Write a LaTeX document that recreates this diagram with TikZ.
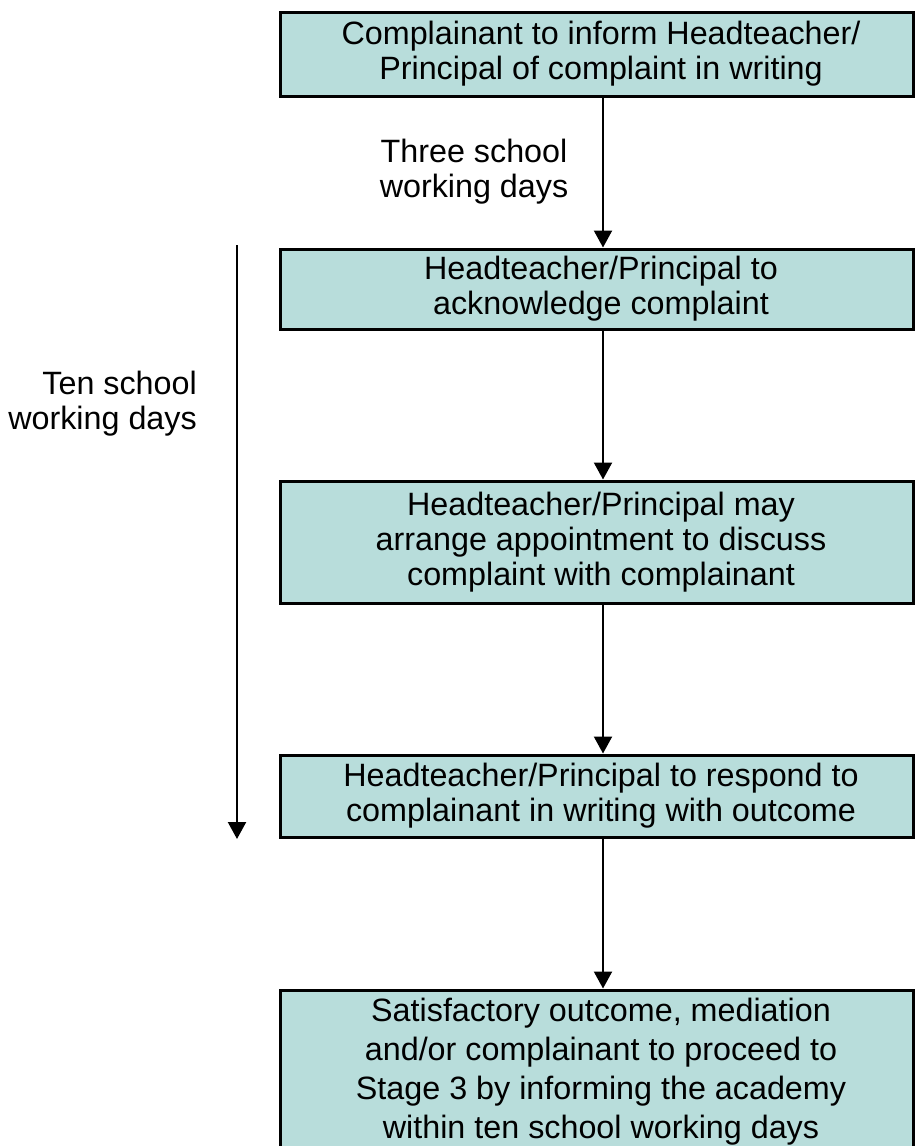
\documentclass[tikz,border=0pt]{standalone}
\usepackage{fontspec}
\setmainfont{Liberation Sans}
\usetikzlibrary{arrows.meta}
\definecolor{boxfill}{RGB}{184,221,219}
\tikzset{
  x=1pt,y=-1pt,
  stage/.style={draw=black,line width=3pt,fill=boxfill,minimum width=633pt,inner sep=0pt},
  stagetext/.style={align=center,inner sep=0pt,font=\fontsize{32.3}{35}\selectfont},
  arr/.style={line width=2.2pt,-{Triangle[width=18pt,length=17pt]}},
  lbl/.style={align=right,inner sep=0pt,font=\fontsize{32.3}{35}\selectfont}
}
\begin{document}
\begin{tikzpicture}
\useasboundingbox (0,0) rectangle (915,1146);
\begin{scope}
\clip (0,0) rectangle (915,1146);
\node[stage,minimum height=84pt] (b1) at (596.5,54) {};
\node[stage,minimum height=80pt] (b2) at (596.5,289) {};
\node[stage,minimum height=122pt] (b3) at (596.5,542) {};
\node[stage,minimum height=82pt] (b4) at (596.5,796) {};
\node[stage,minimum height=170pt] (b5) at (596.5,1075) {};
\node[stagetext] (t1) at ([xshift=4.5pt]b1.center) {Complainant to inform Headteacher/\\Principal of complaint in writing};
\node[stagetext] (t2) at ([xshift=4.5pt]b2.center) {Headteacher/Principal to\\acknowledge complaint};
\node[stagetext] (t3) at ([xshift=4.5pt]b3.center) {Headteacher/Principal may\\arrange appointment to discuss\\complaint with complainant};
\node[stagetext] (t4) at ([xshift=4.5pt]b4.center) {Headteacher/Principal to respond to\\complainant in writing with outcome};
\node[stagetext,font=\fontsize{32.3}{39}\selectfont] (t5) at (601,1072) {Satisfactory outcome, mediation\\and/or complainant to proceed to\\Stage 3 by informing the academy\\within ten school working days};
\end{scope}
\coordinate (ax) at (603,0);
\draw[arr] (b1.south -| ax) -- (b2.north -| ax);
\draw[arr] (b2.south -| ax) -- (b3.north -| ax);
\draw[arr] (b3.south -| ax) -- (b4.north -| ax);
\draw[arr] (b4.south -| ax) -- (b5.north -| ax);
\node[lbl,align=center] (l1) at (474,172) {Three school\\working days};
\node[lbl,anchor=east] (l2) at (197,404) {Ten school\\working days};
\coordinate (s1) at (237,245);
\coordinate (s2) at (237,839);
\draw[arr] (s1) -- (s2);
\end{tikzpicture}
\end{document}
